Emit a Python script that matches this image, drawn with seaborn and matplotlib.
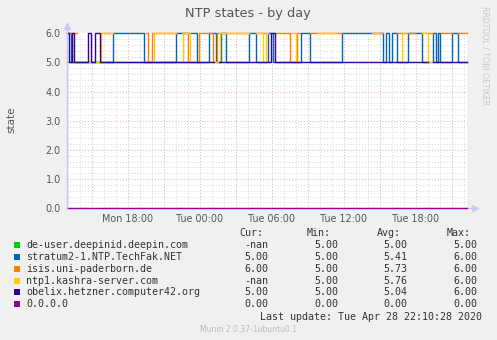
import numpy as np
import pandas as pd
import matplotlib
matplotlib.use("Agg")
import matplotlib.pyplot as plt
from matplotlib.patches import Rectangle
import seaborn as sns

nan = np.nan

# ---------------- data ----------------
series_names = [
    "de-user.deepinid.deepin.com",
    "stratum2-1.NTP.TechFak.NET",
    "isis.uni-paderborn.de",
    "ntp1.kashra-server.com",
    "obelix.hetzner.computer42.org",
    "0.0.0.0",
]
series_colors = ["#00CC00", "#0066B3", "#FF8000", "#FFCC00", "#330099", "#990099"]

# Sampling: 5-minute samples, first sample Mon 12:56
start_hour = 12 + 56 / 60
step_minutes = 5
n_samples = 400

# state change points: (sample index, state); nan = no data
de_user_changes = [(0, 5), (133, nan)]
stratum2_changes = [(0, 6), (4, 5), (46, 6), (77, 5), (109, 6), (130, 5), (142, 6), (149, 5),
                    (154, 6), (159, 5), (182, 6), (189, 5), (201, 6), (206, 5), (234, 6), (243, 5),
                    (275, 6), (316, 5), (319, 6), (322, 5), (325, 6), (330, 5), (341, 6), (355, 5),
                    (366, 6), (369, 5), (371, 6), (373, 5), (385, 6), (391, 5)]
isis_changes = [(0, 6), (10, nan), (34, 6), (46, nan), (79, 6), (81, 5), (85, 6), (109, nan),
                (115, 6), (121, 5), (132, 6), (146, 5), (150, 6), (182, nan), (189, 6), (201, nan),
                (208, 6), (223, 5), (230, 6), (233, nan), (243, 6), (275, nan), (305, 6), (316, nan),
                (330, 6), (348, nan), (355, 6), (366, nan), (374, 6), (385, nan), (391, 6)]
ntp1_changes = [(0, nan), (21, 5), (34, 6), (46, nan), (73, 5), (87, 6), (109, nan), (114, 5),
                (116, 6), (123, 5), (124, nan), (147, 5), (153, 6), (182, nan), (189, 6), (196, 5),
                (199, 6), (201, nan), (224, 6), (229, 5), (233, nan), (251, 6), (269, nan), (305, 6),
                (313, nan), (331, 5), (335, 6), (339, nan), (355, 6), (361, 5), (366, nan)]
obelix_changes = [(0, 6), (2, 5), (5, 6), (7, 5), (21, 6), (24, 5), (28, 6), (33, 5), (147, nan),
                  (152, 5), (204, 6), (208, 5), (361, nan), (366, 5)]
zero_changes = [(0, 0)]

all_changes = [de_user_changes, stratum2_changes, isis_changes, ntp1_changes,
               obelix_changes, zero_changes]

legend_cur = ["-nan", "5.00", "6.00", "-nan", "5.00", "0.00"]
legend_min = ["5.00", "5.00", "5.00", "5.00", "5.00", "0.00"]
legend_avg = ["5.00", "5.41", "5.73", "5.76", "5.04", "0.00"]
legend_max = ["5.00", "6.00", "6.00", "6.00", "6.00", "0.00"]

x_tick_hours = [18, 24, 30, 36, 42]
x_tick_labels = ["Mon 18:00", "Tue 00:00", "Tue 06:00", "Tue 12:00", "Tue 18:00"]
y_ticks = [0, 1, 2, 3, 4, 5, 6]

# ---------------- build long table ----------------
def to_hour(idx):
    return start_hour + idx * step_minutes / 60.0

rows = []
for name, changes in zip(series_names, all_changes):
    seg = 0
    cur = []
    for k, (i, v) in enumerate(changes):
        nxt = changes[k + 1][0] if k + 1 < len(changes) else n_samples
        if np.isnan(v):
            if cur:
                rows.extend(cur)
                seg += 1
                cur = []
            continue
        cur.append((name, f"{name}#{seg}", to_hour(i), v))
        # close the run if next is nan or end
        if k + 1 >= len(changes) or np.isnan(changes[k + 1][1]):
            cur.append((name, f"{name}#{seg}", to_hour(nxt), v))
    if cur:
        rows.extend(cur)
df = pd.DataFrame(rows, columns=["series", "seg", "hour", "state"])

# ---------------- figure ----------------
W, H = 497, 340
fig = plt.figure(figsize=(W / 100, H / 100), dpi=100)
fig.patch.set_facecolor("#F0F0F0")

x0, x1, ytop, ybot = 67, 467, 33.3, 208.3
ax = fig.add_axes([x0 / W, 1 - ybot / H, (x1 - x0) / W, (ybot - ytop) / H])
ax.set_facecolor("white")

xmin, xmax = to_hour(0), to_hour(n_samples)
ax.set_xlim(xmin, xmax)
ax.set_ylim(0, 6)

# grid
minor_c = "#D8D8D8"
major_c = "#F0A8A8"
dot = (0, (1, 2))
for h in range(13, 47):
    ax.axvline(h, color=major_c if h % 3 == 0 else minor_c, lw=0.7, ls=dot, zorder=1)
for yv in np.arange(0.2, 6.0, 0.2):
    is_major = abs(yv - round(yv)) < 1e-6
    ax.axhline(yv, color=major_c if is_major else minor_c, lw=0.7, ls=dot, zorder=1)

palette = dict(zip(series_names, series_colors))
sns.lineplot(data=df, x="hour", y="state", hue="series", units="seg", estimator=None,
             hue_order=series_names, palette=palette, linewidth=1.0, drawstyle="steps-post",
             legend=False, sort=False, ax=ax, clip_on=False, zorder=3)

ax.set_xlabel("")
ax.set_ylabel("")
for s in ["top", "right", "left", "bottom"]:
    ax.spines[s].set_visible(False)

axis_c = "#C8C8F4"
ax.plot([0, 0], [0, 1.03], transform=ax.transAxes, color=axis_c, lw=1.0, clip_on=False, zorder=4)
ax.plot([0, 1.015], [0, 0], transform=ax.transAxes, color=axis_c, lw=1.0, clip_on=False, zorder=2)
ax.plot([0], [1.04], marker="^", ms=5, color=axis_c, transform=ax.transAxes, clip_on=False)
ax.plot([1.02], [0], marker=">", ms=5, color=axis_c, transform=ax.transAxes, clip_on=False)

ax.set_xticks(x_tick_hours)
ax.set_xticklabels(x_tick_labels)
ax.set_yticks(y_ticks)
ax.set_yticklabels([f"{v:.1f}" for v in y_ticks])
ax.tick_params(axis="both", length=0, labelsize=6.9, labelcolor="#555555")
ax.tick_params(axis="y", pad=4.5)
ax.tick_params(axis="x", pad=3.8)

# titles / labels
fig.text(248 / W, 1 - 13 / H, "NTP states - by day", ha="center", va="center",
         fontsize=9.3, color="#555555", family="DejaVu Sans")
fig.text(11 / W, 1 - 120 / H, "state", ha="center", va="center", rotation=90,
         fontsize=7.5, color="#555555", family="DejaVu Sans")
fig.text(485.5 / W, 1 - 56 / H, "RRDTOOL / TOBI OETIKER", ha="center", va="center",
         rotation=270, fontsize=5.6, color="#C8C8C8", family="DejaVu Sans")

# legend
mono = dict(family="DejaVu Sans Mono", fontsize=7.2, color="#333333")
hy = 233
fig.text(263.5 / W, 1 - hy / H, "Cur:", ha="right", va="center", **mono)
fig.text(330.5 / W, 1 - hy / H, "Min:", ha="right", va="center", **mono)
fig.text(400.5 / W, 1 - hy / H, "Avg:", ha="right", va="center", **mono)
fig.text(470.5 / W, 1 - hy / H, "Max:", ha="right", va="center", **mono)
row_y = [245, 256.8, 268.6, 280.5, 292.3, 304]
for k, name in enumerate(series_names):
    y = row_y[k]
    fig.patches.append(Rectangle((13.5 / W, 1 - (y + 3) / H), 6 / W, 6 / H,
                                 transform=fig.transFigure, facecolor=series_colors[k],
                                 edgecolor="none"))
    fig.text(26 / W, 1 - y / H, name, ha="left", va="center", **mono)
    fig.text(268.5 / W, 1 - y / H, legend_cur[k], ha="right", va="center", **mono)
    fig.text(338.5 / W, 1 - y / H, legend_min[k], ha="right", va="center", **mono)
    fig.text(407.5 / W, 1 - y / H, legend_avg[k], ha="right", va="center", **mono)
    fig.text(477.5 / W, 1 - y / H, legend_max[k], ha="right", va="center", **mono)

fig.text(482.5 / W, 1 - 316.5 / H, "Last update: Tue Apr 28 22:10:28 2020", ha="right",
         va="center", **mono)
fig.text(248 / W, 1 - 329 / H, "Munin 2.0.37-1ubuntu0.1", ha="center", va="center",
         fontsize=5.5, color="#BBBBBB", family="DejaVu Sans")

fig.savefig("out.png", dpi=100, facecolor=fig.get_facecolor())
